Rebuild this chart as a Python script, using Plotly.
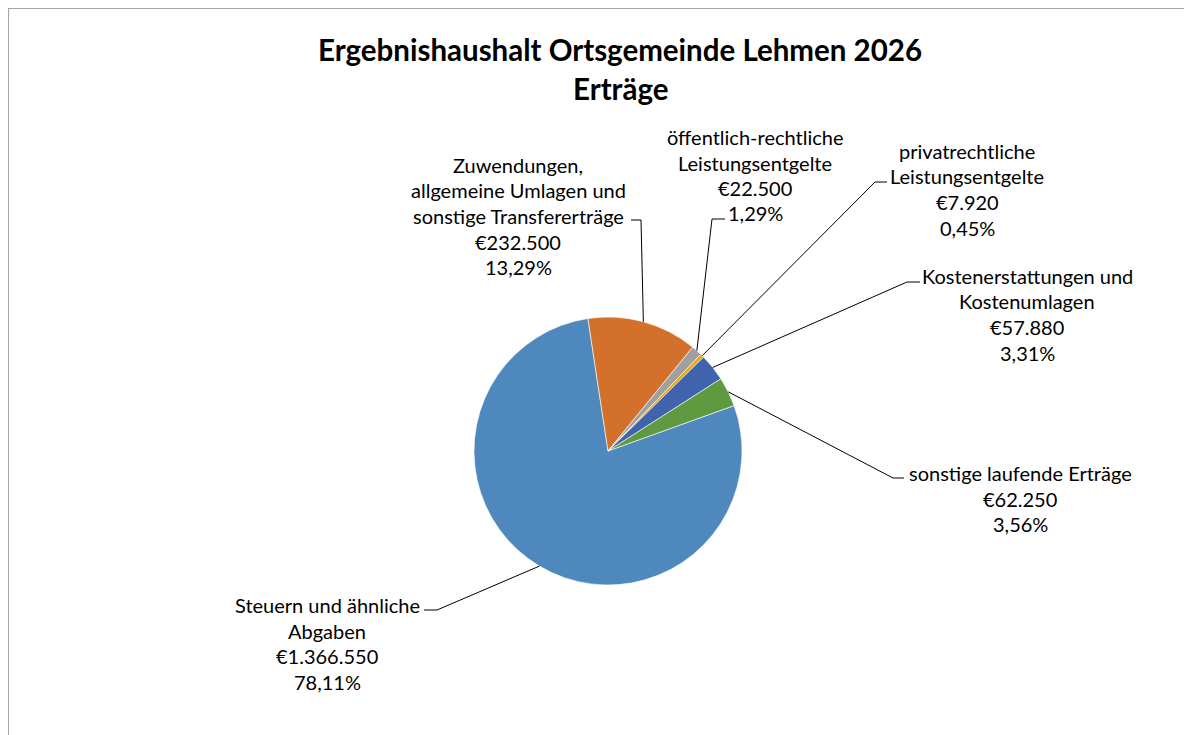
import math
import plotly.graph_objects as go

# ---- data ----
categories = [
    "Steuern und ähnliche Abgaben",
    "Zuwendungen, allgemeine Umlagen und sonstige Transfererträge",
    "öffentlich-rechtliche Leistungsentgelte",
    "privatrechtliche Leistungsentgelte",
    "Kostenerstattungen und Kostenumlagen",
    "sonstige laufende Erträge",
]
values = [1366550, 232500, 22500, 7920, 57880, 62250]
label_lines = [
    ["Steuern und ähnliche", "Abgaben"],
    ["Zuwendungen,", "allgemeine Umlagen und", "sonstige Transfererträge"],
    ["öffentlich-rechtliche", "Leistungsentgelte"],
    ["privatrechtliche", "Leistungsentgelte"],
    ["Kostenerstattungen und", "Kostenumlagen"],
    ["sonstige laufende Erträge"],
]
colors = ["#4F88BC", "#D3702B", "#A0A0A0", "#E6A812", "#3F64AD", "#5F9A40"]
title_lines = ["Ergebnishaushalt Ortsgemeinde Lehmen 2026", "Erträge"]

# ---- layout constants (page pixels) ----
OFF = 8  # page body margin
W, H = 1192 - OFF, 735 - OFF
CX, CY, R = 608, 451, 134
ROTATION = 70.2
LINE_SP = 25.5
# label block position: (center x, first line center y)
label_pos = [(327, 605), (518, 165), (755, 137), (967, 151), (1027, 276), (1020, 473)]
# leader: elbow point and end of short horizontal segment
leader_pts = [
    [(437, 610), (424, 610)],
    [(641, 220), (631, 220)],
    [(712, 219), (725, 219)],
    [(875, 182), (887, 182)],
    [(907, 282), (920, 282)],
    [(893, 478), (904, 478)],
]

FONT = "Lato, 'Open Sans', sans-serif"


def px(x):
    return (x - OFF) / W


def py(y):
    return 1 - (y - OFF) / H


total = sum(values)

fig = go.Figure(
    go.Pie(
        labels=categories,
        values=values,
        sort=False,
        direction="clockwise",
        rotation=ROTATION,
        marker=dict(colors=colors, line=dict(color="white", width=0.6)),
        textinfo="none",
        showlegend=False,
        domain=dict(x=[px(CX - R), px(CX + R)], y=[py(CY + R), py(CY - R)]),
    )
)

annotations = []
shapes = []

# title
for i, t in enumerate(title_lines):
    annotations.append(dict(
        x=px(620), y=py(50 + i * 38), xref="paper", yref="paper",
        text=f"<b>{t}</b>", showarrow=False, xanchor="center", yanchor="middle",
        font=dict(family=FONT, size=29.5, color="#000"),
    ))

# labels and leaders
cum = 0.0
for i, v in enumerate(values):
    mid = ROTATION + (cum + v / 2) / total * 360.0
    cum += v
    a = math.radians(mid)
    sx = CX + R * math.sin(a)
    sy = CY - R * math.cos(a)
    pct = v / total * 100
    val_txt = "€" + f"{v:,}".replace(",", ".")
    pct_txt = f"{pct:.2f}".replace(".", ",") + "%"
    lines = label_lines[i] + [val_txt, pct_txt]
    lx, ly = label_pos[i]
    for j, ln in enumerate(lines):
        annotations.append(dict(
            x=px(lx), y=py(ly + j * LINE_SP), xref="paper", yref="paper",
            text=ln, showarrow=False, xanchor="center", yanchor="middle",
            font=dict(family=FONT, size=20, color="#000"),
        ))
    (ex, ey), (hx, hy) = leader_pts[i]
    path = f"M {px(sx)} {py(sy)} L {px(ex)} {py(ey)} L {px(hx)} {py(hy)}"
    shapes.append(dict(type="path", xref="paper", yref="paper", path=path,
                       line=dict(color="#000", width=1)))

# chart area border
shapes.append(dict(type="rect", xref="paper", yref="paper",
                   x0=px(8.5), y0=py(8.5), x1=px(1200), y1=py(745),
                   line=dict(color="#A6A6A6", width=1.2), fillcolor="rgba(0,0,0,0)"))

fig.update_layout(
    width=W, height=H,
    margin=dict(l=0, r=0, t=0, b=0),
    paper_bgcolor="white", plot_bgcolor="white",
    annotations=annotations, shapes=shapes,
)

fig.write_html("out.html")
